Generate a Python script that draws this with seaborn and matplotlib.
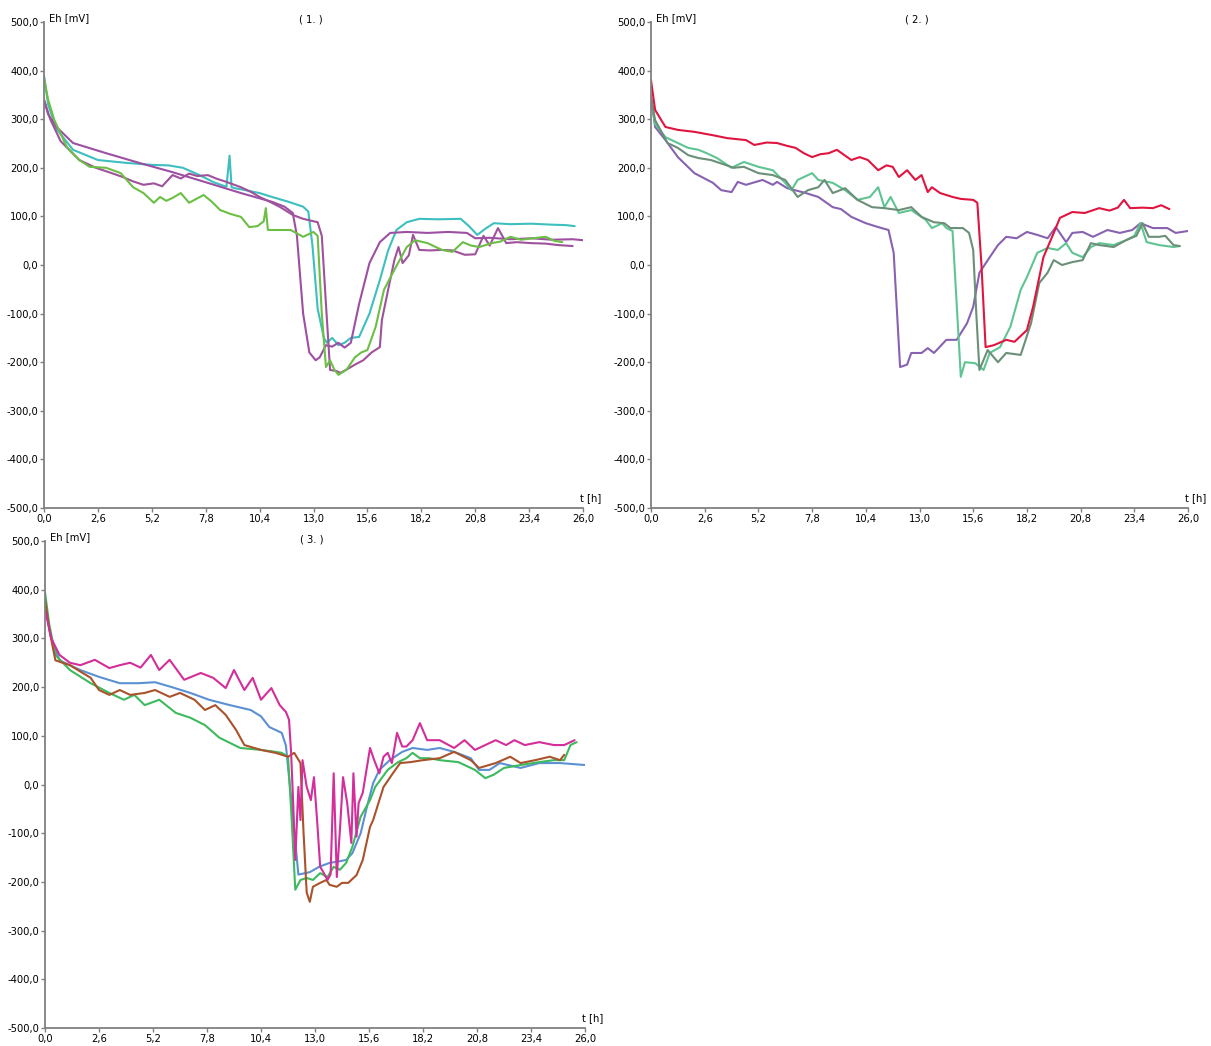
import numpy as np
import pandas as pd
import matplotlib
matplotlib.use("Agg")
import matplotlib.pyplot as plt
import seaborn as sns

# ---------------- Panel 1 ----------------
p1_cyan_t = [0, 0.2, 0.6, 1.4, 2.6, 4.0, 5.2, 6.0, 6.7, 7.5, 8.2, 8.8, 8.95, 9.05, 9.2, 9.6, 10.4, 11.0, 11.8, 12.5, 12.75, 12.95, 13.2, 13.5, 13.65, 13.9, 14.2, 14.5, 14.8, 15.2, 15.7, 16.2, 16.6, 17.0, 17.5, 18.1, 19.0, 20.1, 20.5, 20.9, 21.3, 21.7, 22.5, 23.5, 24.5, 25.2, 25.6]
p1_cyan_v = [390, 330, 280, 237, 216, 210, 206, 205, 200, 185, 170, 161, 225, 160, 158, 155, 148, 140, 130, 120, 110, 40, -90, -150, -160, -150, -165, -160, -150, -148, -100, -31, 30, 72, 88, 95, 94, 95, 80, 62, 75, 86, 84, 85, 83, 82, 80]

p1_purple1_t = [0, 0.2, 0.6, 1.4, 3.0, 4.6, 6.2, 7.9, 9.5, 11.0, 11.6, 12.0, 12.2, 12.5, 12.8, 13.1, 13.3, 13.6, 13.9, 14.2, 14.5, 14.8, 15.2, 15.7, 16.2, 16.7, 17.5, 18.5, 19.5, 20.4, 20.8, 21.5, 22.5, 23.5, 24.5, 25.5, 26.0]
p1_purple1_v = [340, 310, 284, 251, 230, 210, 191, 169, 148, 130, 120, 107, 60, -100, -180, -196, -190, -165, -168, -160, -170, -160, -80, 4, 47, 66, 68, 66, 68, 66, 55, 56, 53, 55, 52, 53, 51]

p1_purple2_t = [0, 0.3, 0.8, 1.7, 2.5, 3.2, 3.8, 4.3, 4.8, 5.3, 5.7, 6.2, 6.6, 7.0, 7.4, 7.9, 8.3, 8.8, 9.5, 10.0, 10.4, 10.9, 11.4, 12.0, 12.5, 13.2, 13.4, 13.6, 13.8, 14.1, 14.3, 14.6, 15.0, 15.4, 15.8, 16.2, 16.3, 16.6, 16.9, 17.1, 17.3, 17.6, 17.8, 18.1, 18.6, 19.2, 19.7, 20.3, 20.8, 21.2, 21.5, 21.9, 22.3, 22.8, 23.5, 24.2, 24.8, 25.5]
p1_purple2_v = [340, 300, 255, 216, 200, 190, 181, 172, 165, 168, 162, 185, 178, 188, 183, 185, 178, 171, 160, 150, 140, 130, 119, 103, 95, 88, 60, -80, -216, -218, -222, -215, -205, -196, -180, -169, -113, -51, 10, 37, 4, 20, 62, 31, 30, 31, 30, 21, 22, 60, 40, 76, 45, 47, 45, 44, 41, 39]

p1_green_t = [0, 0.2, 0.5, 1.1, 1.7, 2.2, 3.0, 3.7, 4.3, 4.8, 5.3, 5.6, 5.9, 6.2, 6.6, 7.0, 7.3, 7.7, 8.1, 8.5, 9.0, 9.5, 9.9, 10.3, 10.6, 10.7, 10.8, 11.2, 11.9, 12.5, 13.0, 13.2, 13.4, 13.6, 13.8, 14.0, 14.2, 14.6, 15.0, 15.3, 15.6, 16.0, 16.4, 16.9, 17.5, 17.9, 18.5, 19.2, 19.7, 20.2, 20.6, 21.0, 21.6, 22.0, 22.5, 23.0, 23.6, 24.2, 24.6, 25.0]
p1_green_v = [385, 340, 298, 243, 216, 202, 200, 189, 160, 148, 128, 140, 132, 138, 148, 128, 135, 144, 130, 113, 105, 99, 78, 80, 90, 117, 72, 72, 72, 58, 68, 60, -100, -210, -196, -215, -226, -215, -190, -180, -175, -127, -51, -10, 37, 51, 45, 31, 27, 47, 40, 37, 45, 48, 58, 52, 55, 58, 50, 47]

# ---------------- Panel 2 ----------------
p2_red_t = [0, 0.2, 0.7, 1.3, 2.1, 3.0, 3.7, 4.6, 5.0, 5.6, 6.1, 6.6, 7.0, 7.4, 7.8, 8.2, 8.6, 9.0, 9.7, 10.1, 10.5, 11.0, 11.4, 11.7, 12.0, 12.4, 12.8, 13.1, 13.4, 13.6, 14.0, 14.6, 15.0, 15.6, 15.8, 16.0, 16.2, 16.6, 17.2, 17.6, 18.2, 18.5, 19.0, 19.5, 19.8, 20.4, 21.0, 21.7, 22.2, 22.6, 22.9, 23.2, 23.8, 24.3, 24.7, 25.1]
p2_red_v = [380, 319, 284, 278, 274, 267, 261, 257, 247, 252, 251, 245, 241, 230, 222, 228, 230, 237, 216, 222, 216, 195, 205, 202, 181, 195, 175, 185, 150, 160, 148, 140, 136, 134, 128, 0, -169, -165, -154, -158, -134, -86, 16, 66, 97, 109, 107, 117, 112, 118, 134, 117, 118, 117, 123, 115]

p2_purple_t = [0, 0.2, 0.7, 1.3, 2.1, 3.0, 3.4, 3.9, 4.2, 4.6, 5.4, 5.9, 6.1, 6.6, 7.5, 8.1, 8.8, 9.2, 9.7, 10.4, 11.0, 11.5, 11.75, 12.06, 12.4, 12.6, 13.1, 13.4, 13.7, 14.3, 14.8, 15.3, 15.6, 15.9, 16.4, 16.8, 17.2, 17.7, 18.2, 18.7, 19.2, 19.6, 20.1, 20.4, 20.9, 21.4, 22.1, 22.7, 23.3, 23.7, 24.3, 25.0, 25.4, 26.0]
p2_purple_v = [346, 284, 257, 222, 189, 169, 154, 150, 171, 165, 175, 165, 171, 158, 148, 140, 119, 115, 99, 86, 78, 72, 25, -210, -205, -181, -181, -171, -181, -154, -154, -120, -86, -16, 16, 41, 58, 55, 68, 62, 55, 78, 47, 66, 68, 58, 72, 66, 72, 86, 76, 76, 66, 70]

p2_ltgreen_t = [0, 0.2, 0.7, 1.3, 1.8, 2.3, 2.7, 3.2, 3.9, 4.5, 5.2, 5.9, 6.5, 6.8, 7.1, 7.8, 8.1, 8.8, 9.4, 10.0, 10.6, 11.0, 11.3, 11.6, 12.0, 12.6, 13.3, 13.6, 14.1, 14.3, 14.6, 15.0, 15.2, 15.7, 16.1, 16.4, 16.9, 17.4, 17.9, 18.2, 18.7, 19.2, 19.7, 20.1, 20.4, 20.9, 21.3, 21.7, 22.4, 23.0, 23.4, 23.7, 24.0, 24.6, 25.3, 25.6]
p2_ltgreen_v = [340, 290, 263, 251, 241, 237, 230, 220, 200, 212, 202, 195, 169, 154, 175, 189, 175, 169, 154, 134, 140, 160, 119, 140, 107, 113, 93, 76, 86, 76, 70, -230, -200, -202, -216, -181, -169, -127, -51, -25, 25, 35, 31, 45, 25, 16, 37, 45, 41, 51, 60, 86, 47, 41, 37, 39]

p2_grgreen_t = [0, 0.2, 0.8, 1.3, 1.8, 2.3, 2.9, 3.6, 4.0, 4.5, 5.2, 5.9, 6.5, 7.1, 7.6, 8.1, 8.4, 8.8, 9.4, 10.0, 10.7, 11.3, 12.0, 12.6, 13.1, 13.7, 14.2, 14.5, 15.1, 15.4, 15.6, 15.75, 15.9, 16.3, 16.8, 17.2, 17.9, 18.4, 18.8, 19.2, 19.5, 19.9, 20.4, 20.9, 21.3, 21.7, 22.4, 23.0, 23.5, 23.8, 24.1, 24.6, 24.9, 25.3, 25.6]
p2_grgreen_v = [346, 298, 251, 241, 226, 220, 216, 206, 200, 202, 189, 185, 175, 140, 154, 160, 175, 148, 158, 134, 119, 117, 113, 119, 99, 88, 86, 76, 76, 66, 31, -100, -216, -175, -200, -181, -185, -120, -37, -16, 10, 0, 6, 10, 45, 41, 37, 51, 60, 86, 58, 58, 60, 41, 39]

# ---------------- Panel 3 ----------------
p3_magenta_t = [0, 0.3, 0.7, 1.2, 1.7, 2.4, 3.1, 3.6, 4.1, 4.6, 5.1, 5.5, 6.0, 6.7, 7.5, 8.1, 8.7, 9.1, 9.6, 10.0, 10.4, 10.9, 11.3, 11.6, 11.75, 11.85, 11.95, 12.05, 12.2, 12.3, 12.4, 12.6, 12.8, 12.95, 13.1, 13.25, 13.4, 13.6, 13.75, 13.9, 14.05, 14.2, 14.35, 14.55, 14.75, 14.85, 15.0, 15.1, 15.3, 15.65, 15.85, 16.1, 16.3, 16.5, 16.7, 16.95, 17.2, 17.4, 17.7, 18.05, 18.4, 19.0, 19.7, 20.2, 20.7, 21.2, 21.7, 22.2, 22.6, 23.1, 23.8, 24.5, 25.0, 25.5]
p3_magenta_v = [360, 300, 266, 250, 245, 256, 239, 245, 250, 240, 266, 235, 256, 215, 229, 219, 198, 235, 194, 219, 174, 198, 163, 149, 133, 65, -38, -155, -5, -73, 50, -5, -32, 15, -73, -169, -180, -196, -185, 23, -190, -93, 15, -38, -120, 23, -107, -38, -17, 75, 50, 23, 57, 65, 44, 106, 78, 78, 91, 126, 91, 91, 75, 91, 71, 81, 91, 81, 91, 81, 87, 81, 81, 91]

p3_blue_t = [0, 0.3, 0.7, 1.7, 2.6, 3.6, 4.5, 5.3, 6.1, 7.0, 7.9, 8.9, 9.9, 10.4, 10.8, 11.4, 11.6, 11.9, 12.2, 12.75, 13.2, 13.7, 14.0, 14.5, 14.8, 15.2, 15.5, 15.8, 16.1, 16.6, 17.2, 17.7, 18.4, 19.0, 19.7, 20.5, 20.9, 21.4, 21.9, 22.9, 23.8, 24.8, 26.0]
p3_blue_v = [370, 300, 255, 235, 221, 208, 208, 210, 200, 188, 174, 163, 153, 140, 118, 106, 80, -50, -185, -180, -169, -161, -159, -155, -141, -100, -46, 3, 30, 50, 67, 75, 71, 75, 67, 54, 30, 30, 44, 34, 44, 44, 40]

p3_green_t = [0, 0.2, 0.5, 1.2, 2.2, 3.1, 3.8, 4.3, 4.8, 5.5, 6.3, 7.0, 7.7, 8.4, 9.4, 10.4, 11.1, 11.4, 11.7, 11.85, 12.05, 12.3, 12.6, 12.9, 13.25, 13.6, 13.9, 14.2, 14.5, 14.8, 15.2, 15.65, 15.9, 16.5, 17.0, 17.4, 17.7, 18.05, 18.5, 19.0, 19.9, 20.7, 21.2, 21.6, 22.1, 22.9, 23.8, 24.5, 25.0, 25.3, 25.6]
p3_green_v = [395, 330, 266, 235, 208, 188, 174, 184, 163, 174, 147, 137, 122, 96, 75, 71, 67, 65, 57, -50, -216, -196, -192, -196, -182, -190, -169, -175, -161, -128, -66, -32, -5, 30, 46, 54, 65, 54, 54, 50, 46, 30, 13, 20, 34, 40, 46, 50, 50, 81, 87]

p3_brown_t = [0, 0.2, 0.5, 1.2, 2.2, 2.6, 3.1, 3.6, 4.1, 4.8, 5.3, 6.0, 6.5, 7.2, 7.7, 8.2, 8.7, 9.2, 9.6, 10.4, 11.1, 11.7, 12.0, 12.3, 12.45, 12.6, 12.75, 12.9, 13.25, 13.55, 13.7, 14.05, 14.3, 14.6, 15.0, 15.3, 15.65, 15.8, 16.1, 16.3, 16.75, 17.1, 17.6, 18.2, 19.0, 19.7, 20.5, 20.9, 21.7, 22.4, 22.9, 23.6, 24.3, 24.8, 25.0]
p3_brown_v = [380, 320, 255, 245, 219, 194, 184, 194, 184, 188, 194, 180, 188, 174, 153, 163, 143, 112, 81, 71, 65, 57, 65, 44, -100, -222, -241, -210, -202, -196, -206, -210, -202, -202, -186, -155, -87, -73, -32, -5, 23, 44, 46, 50, 54, 67, 50, 34, 44, 57, 44, 50, 57, 50, 61]

y_ticks = [-500, -400, -300, -200, -100, 0, 100, 200, 300, 400, 500]
x_ticks = [0.0, 2.6, 5.2, 7.8, 10.4, 13.0, 15.6, 18.2, 20.8, 23.4, 26.0]
panel_titles = ["( 1. )", "( 2. )", "( 3. )"]
y_label = "Eh [mV]"
x_label = "t [h]"

panels = [
    [("c", p1_cyan_t, p1_cyan_v, "#3dbfbf"),
     ("p1", p1_purple1_t, p1_purple1_v, "#9d4fa3"),
     ("p2", p1_purple2_t, p1_purple2_v, "#a0519b"),
     ("g", p1_green_t, p1_green_v, "#6cbf45")],
    [("pu", p2_purple_t, p2_purple_v, "#8862b0"),
     ("lg", p2_ltgreen_t, p2_ltgreen_v, "#5ec492"),
     ("gg", p2_grgreen_t, p2_grgreen_v, "#6b8f78"),
     ("r", p2_red_t, p2_red_v, "#e0153f")],
    [("b", p3_blue_t, p3_blue_v, "#5b90d2"),
     ("gr", p3_green_t, p3_green_v, "#3dba5e"),
     ("br", p3_brown_t, p3_brown_v, "#a9522b"),
     ("m", p3_magenta_t, p3_magenta_v, "#d32e99")],
]

sns.set_theme(style="white")
plt.rcParams['font.family'] = ['DejaVu Sans']
plt.rcParams['font.stretch'] = 'condensed'

W, H = 1211, 1046
fig = plt.figure(figsize=(W / 100, H / 100), dpi=100)

def rect(l, r, t, b):
    return [l / W, 1 - b / H, (r - l) / W, (b - t) / H]

rects = [rect(44, 583, 22, 508), rect(651, 1188, 22, 508), rect(45, 585, 541, 1028)]

def fmt(v):
    return ("%.1f" % v).replace(".", ",")

FS = 8
grey = "#808080"
for i, (rc, series) in enumerate(zip(rects, panels)):
    ax = fig.add_axes(rc)
    rows = []
    for name, t, v, col in series:
        for a, b in zip(t, v):
            rows.append((name, a, b))
    df = pd.DataFrame(rows, columns=["series", "t", "v"])
    pal = {name: col for name, t, v, col in series}
    sns.lineplot(data=df, x="t", y="v", hue="series", palette=pal,
                 hue_order=[s[0] for s in series], sort=False,
                 estimator=None, legend=False, linewidth=1.5, ax=ax)
    ax.set_xlim(0, 26)
    ax.set_ylim(-500, 500)
    ax.set_xticks(x_ticks)
    ax.set_xticklabels([fmt(x) for x in x_ticks])
    ax.set_yticks(y_ticks)
    ax.set_yticklabels([fmt(y) for y in y_ticks])
    ax.set_xlabel("")
    ax.set_ylabel("")
    for s in ["top", "right"]:
        ax.spines[s].set_visible(False)
    for s in ["left", "bottom"]:
        ax.spines[s].set_color(grey)
        ax.spines[s].set_linewidth(1.3)
    ax.tick_params(axis="both", which="major", direction="out", length=3,
                   width=1, color=grey, labelsize=FS, labelcolor="black", pad=1)
    ax.tick_params(axis="both", left=True, bottom=True)
    ax.annotate(y_label, xy=(0, 1), xycoords="axes fraction",
                xytext=(5, 4), textcoords="offset pixels",
                ha="left", va="center", fontsize=FS, color="black")
    ax.annotate(x_label, xy=(1, 0), xycoords="axes fraction",
                xytext=(-3, 10), textcoords="offset pixels",
                ha="left", va="center", fontsize=FS, color="black")
    ax.annotate(panel_titles[i], xy=(0.5, 1), xycoords="axes fraction",
                xytext=(-3, 2), textcoords="offset pixels",
                ha="center", va="center", fontsize=FS, color="black")
    ax.patch.set_alpha(0)

fig.savefig("out.png", dpi=100)
